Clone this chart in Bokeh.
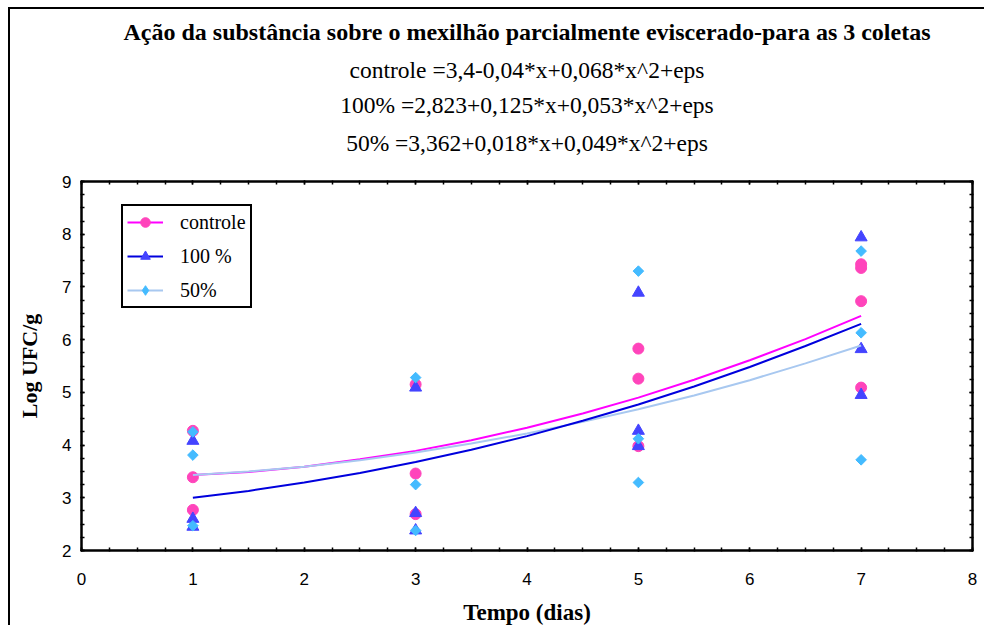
import math
from bokeh.plotting import figure
from bokeh.models import Title, LinearAxis, FixedTicker, Range1d, Legend, LegendItem
from bokeh.embed import file_html
from bokeh.resources import INLINE

# ---- data ----
ctrl_x = [1, 1, 1, 3, 3, 3, 5, 5, 5, 7, 7, 7, 7]
ctrl_y = [4.27, 3.39, 2.77, 5.15, 3.46, 2.69, 5.83, 5.26, 3.98, 7.43, 7.36, 6.73, 5.09]

p100_x = [1, 1, 1, 3, 3, 3, 5, 5, 5, 7, 7, 7]
p100_y = [4.08, 2.60, 2.45, 5.09, 2.71, 2.38, 6.89, 4.27, 3.98, 7.94, 5.82, 4.95]

p50_x = [1, 1, 1, 3, 3, 3, 5, 5, 5, 7, 7, 7]
p50_y = [4.25, 3.81, 2.47, 5.28, 3.25, 2.38, 7.30, 4.12, 3.29, 7.68, 6.13, 3.72]

curve_x = [1, 1.5, 2, 2.5, 3, 3.5, 4, 4.5, 5, 5.5, 6, 6.5, 7]
curve_ctrl = [3.43, 3.49, 3.59, 3.73, 3.89, 4.09, 4.33, 4.60, 4.90, 5.24, 5.61, 6.01, 6.45]
curve_100 = [3.00, 3.13, 3.29, 3.47, 3.68, 3.91, 4.17, 4.46, 4.77, 5.11, 5.48, 5.88, 6.30]
curve_50 = [3.43, 3.50, 3.59, 3.71, 3.86, 4.03, 4.22, 4.44, 4.68, 4.94, 5.23, 5.55, 5.89]

x_ticks = [0, 1, 2, 3, 4, 5, 6, 7, 8]
y_ticks = [2, 3, 4, 5, 6, 7, 8, 9]

title_text = "Ação da substância sobre o mexilhão parcialmente eviscerado-para as 3 coletas"
eq_lines = ["controle =3,4-0,04*x+0,068*x^2+eps",
            "100% =2,823+0,125*x+0,053*x^2+eps",
            "50% =3,362+0,018*x+0,049*x^2+eps"]
labels = ["controle", "100 %", "50%"]

SERIF = "Liberation Serif"
SANS = "Liberation Sans"

p = figure(width=976, height=618, output_backend="svg", toolbar_location=None,
           x_range=Range1d(0, 8), y_range=Range1d(2, 9),
           min_border_left=71, min_border_right=14, min_border_top=40, min_border_bottom=75)
p.styles = {"border-left": "2px solid black", "border-top": "2px solid black",
            "margin-left": "8px", "margin-top": "7px"}

p.background_fill_color = "white"
p.border_fill_color = "white"
p.outline_line_color = "black"
p.outline_line_width = 2
p.xgrid.visible = False
p.ygrid.visible = False

xt = FixedTicker(ticks=x_ticks, minor_ticks=[i * 0.25 for i in range(33)])
yt = FixedTicker(ticks=y_ticks, minor_ticks=[2 + i * 0.25 for i in range(29)])

def style_axis(ax, show_labels=True):
    ax.axis_line_color = "black"
    ax.axis_line_width = 2
    ax.major_tick_in = 3
    ax.major_tick_out = 1
    ax.minor_tick_in = 3
    ax.minor_tick_out = 1
    ax.major_tick_line_width = 1.5
    ax.minor_tick_line_width = 1.5
    ax.major_tick_line_color = "black"
    ax.minor_tick_line_color = "black"
    ax.major_label_text_font = SANS
    ax.major_label_text_font_size = "17px"
    ax.major_label_text_color = "black"
    if not show_labels:
        ax.major_label_text_alpha = 0
        ax.major_label_text_font_size = "1px"
        ax.major_label_standoff = 0

p.xaxis.ticker = xt
p.yaxis.ticker = yt
style_axis(p.xaxis[0])
style_axis(p.yaxis[0])
p.xaxis.major_label_standoff = 21
p.yaxis.major_label_standoff = 9

p.xaxis.axis_label = "Tempo (dias)"
p.yaxis.axis_label = "Log UFC/g"
for ax in (p.xaxis[0], p.yaxis[0]):
    ax.axis_label_text_font = SERIF
    ax.axis_label_text_font_style = "bold"
    ax.axis_label_text_color = "black"
p.xaxis.axis_label_text_font_size = "23px"
p.yaxis.axis_label_text_font_size = "22px"
p.xaxis.axis_label_standoff = 12
p.yaxis.axis_label_standoff = 17

top_ax = LinearAxis(ticker=xt)
right_ax = LinearAxis(ticker=yt)
style_axis(top_ax, False)
style_axis(right_ax, False)
top_ax.major_label_standoff = 15
p.add_layout(top_ax, "above")
p.add_layout(right_ax, "right")

# spacer between the frame and the equations
p.add_layout(Title(text=" ", text_font_size="1px", standoff=16), "above")
# titles (added innermost first)
eq_standoffs = [12, 7, 7]  # for eq3, eq2, eq1
for txt, so in zip(reversed(eq_lines), eq_standoffs):
    p.add_layout(Title(text=txt, text_font=SERIF, text_font_size="23.5px",
                       text_font_style="normal", text_color="black", align="center",
                       standoff=so), "above")
p.add_layout(Title(text=title_text, text_font=SERIF, text_font_size="24px",
                   text_font_style="bold", text_color="black", align="center",
                   standoff=14), "above")

# markers
r_c = p.scatter(ctrl_x, ctrl_y, marker="circle", size=11, fill_color="#FF44BB",
                line_color="#FF44BB")
r_t = p.scatter(p100_x, p100_y, marker="triangle", size=12, fill_color="#4444FF",
                line_color="#4444FF")
r_d = p.scatter(p50_x, p50_y, marker="square", size=7.5, angle=math.pi / 4,
                fill_color="#44BBFF", line_color="#44BBFF")
# legend-only diamond glyph, its single point lies outside the visible range
r_d_leg = p.scatter([-10], [-10], marker="diamond", size=13,
                    fill_color="#44BBFF", line_color="#44BBFF")

# fitted curves
l_c = p.line(curve_x, curve_ctrl, line_color="#FF00FF", line_width=2)
l_50 = p.line(curve_x, curve_50, line_color="#A8C8F0", line_width=2)
l_100 = p.line(curve_x, curve_100, line_color="#0000DD", line_width=2)

legend = Legend(items=[LegendItem(label=labels[0], renderers=[l_c, r_c]),
                       LegendItem(label=labels[1], renderers=[l_100, r_t]),
                       LegendItem(label=labels[2], renderers=[l_50, r_d_leg])],
                location=(40, 242))
legend.label_text_font = SERIF
legend.label_text_font_size = "20px"
legend.label_text_color = "black"
legend.border_line_color = "black"
legend.border_line_alpha = 1
legend.border_line_width = 2
legend.background_fill_alpha = 1
legend.glyph_width = 36
legend.glyph_height = 24
legend.label_standoff = 17
legend.spacing = 10
legend.padding = 4
legend.margin = 0
p.add_layout(legend, "center")

open("out.html", "w").write(file_html(p, INLINE))
